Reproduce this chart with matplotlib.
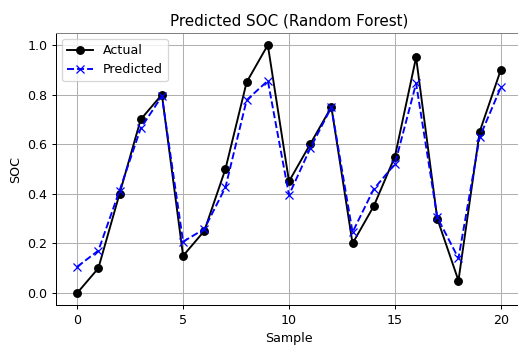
import numpy as np
import matplotlib
matplotlib.use('Agg')
import matplotlib.pyplot as plt

samples = np.arange(21)
actual = [0.0, 0.1, 0.4, 0.7, 0.8, 0.15, 0.25, 0.5, 0.85, 1.0, 0.45,
          0.6, 0.75, 0.2, 0.35, 0.55, 0.95, 0.3, 0.05, 0.65, 0.9]
predicted = [0.106, 0.171, 0.413, 0.664, 0.794, 0.207, 0.258, 0.426, 0.778, 0.856, 0.395,
             0.583, 0.749, 0.245, 0.419, 0.52, 0.845, 0.305, 0.14, 0.628, 0.829]

dpi = 91
fig = plt.figure(figsize=(518 / dpi, 345 / dpi), dpi=dpi)
# axes runs a little past the right edge, as in the reference
ax = fig.add_axes([56 / 518, 39.6 / 345, 466 / 518, 272.8 / 345])
ax.plot(samples, actual, 'o-', color='black', label='Actual')
ax.plot(samples, predicted, 'x--', color='blue', label='Predicted')
ax.set_title('Predicted SOC (Random Forest)')
ax.set_xlabel('Sample')
ax.set_ylabel('SOC')
ax.set_xticks([0, 5, 10, 15, 20])
ax.grid(True)
ax.spines['top'].set_color('#808080')
ax.legend(loc='upper left')
plt.savefig('out.png', dpi=dpi)
